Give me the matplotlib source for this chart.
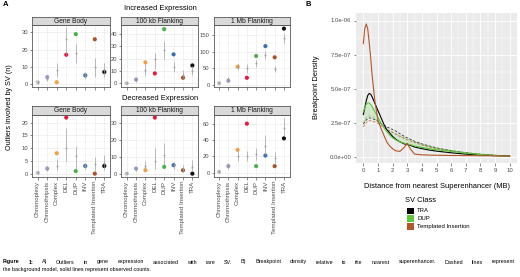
import matplotlib
matplotlib.use('Agg')
import matplotlib.pyplot as plt
import numpy as np

plt.rcParams['font.family'] = ['Liberation Sans', 'DejaVu Sans']

W, H = 520, 277
fig = plt.figure(figsize=(5.2, 2.77), dpi=100)

def ax_px(x0, y0, x1, y1):
    return fig.add_axes([x0 / W, 1 - y1 / H, (x1 - x0) / W, (y1 - y0) / H])

# ---------------- data: panel A ----------------
categories = ['Chromoplexy', 'Chromothripsis', 'Complex', 'DEL', 'DUP', 'INV',
              'Templated Insertion', 'TRA']
cat_colors = ['#C4C4CC', '#9C9CCC', '#F0A04A', '#E3193F', '#4DAF4A', '#3D6DB5',
              '#A9532C', '#111111']
facets = ['Gene Body', '100 kb Flanking', '1 Mb Flanking']

# Increased expression
inc_gb_obs = [1, 4, 1, 17, 29, 5, 26, 7]
inc_gb_exp = [1, 3, 8, 26, 18, 5, 10, 8]
inc_gb_lo = [0, 1.5, 4, 17, 12, 3, 4, 4]
inc_gb_hi = [2, 5, 12, 33, 23, 7, 15, 12]

inc_100_obs = [0, 3, 17, 8, 44, 23.5, 4.5, 14.5]
inc_100_exp = [0.5, 3, 11, 19.5, 27, 13, 7, 10]
inc_100_lo = [0, 1, 6, 12, 20, 9, 4, 7]
inc_100_hi = [1, 5, 16, 25, 34, 17.5, 11, 14]

inc_1mb_obs = [5, 12, 55, 21, 87, 117, 83, 170]
inc_1mb_exp = [5, 16, 55, 50, 65, 90, 48, 141]
inc_1mb_lo = [2, 8, 45, 37, 55, 78, 38, 125]
inc_1mb_hi = [8, 24, 62, 63, 75, 103, 58, 158]

# Decreased expression
dec_gb_obs = [0.3, 2, 8, 22, 1, 3, 0, 3]
dec_gb_exp = [0.5, 2, 3, 10, 7, 3, 3.7, 4]
dec_gb_lo = [0, 1, 1.5, 5, 2, 2, 1, 1.5]
dec_gb_hi = [1, 3, 5.6, 18, 11, 4, 6.7, 7.3]

dec_100_obs = [0, 3, 2, 33, 4, 5, 2, 0]
dec_100_exp = [0.3, 3, 4.7, 7.5, 11, 5, 3, 4]
dec_100_lo = [0, 1.5, 3, 3, 5, 3, 1, 2]
dec_100_hi = [1, 4, 7.6, 15, 18, 7, 5, 8]

dec_1mb_obs = [1, 8, 28, 60, 8, 21, 8, 42]
dec_1mb_exp = [1.5, 9, 20, 20, 23, 33, 18, 55]
dec_1mb_lo = [0, 5, 14, 14, 16, 22, 12, 45]
dec_1mb_hi = [3, 12, 26, 27, 30, 46, 25, 67]

panels = [
    # (row, col, obs, exp, lo, hi, ylim, major, minor)
    (0, 0, inc_gb_obs, inc_gb_exp, inc_gb_lo, inc_gb_hi, (-1.6, 34.3), [0, 10, 20, 30], [5, 15, 25]),
    (0, 1, inc_100_obs, inc_100_exp, inc_100_lo, inc_100_hi, (-2.8, 47.4), [0, 10, 20, 30, 40], [5, 15, 25, 35, 45]),
    (0, 2, inc_1mb_obs, inc_1mb_exp, inc_1mb_lo, inc_1mb_hi, (-6, 181), [0, 50, 100, 150], [25, 75, 125, 175]),
    (1, 0, dec_gb_obs, dec_gb_exp, dec_gb_lo, dec_gb_hi, (-1.2, 23), [0, 5, 10, 15, 20], [2.5, 7.5, 12.5, 17.5, 22.5]),
    (1, 1, dec_100_obs, dec_100_exp, dec_100_lo, dec_100_hi, (-1.8, 34.5), [0, 10, 20, 30], [5, 15, 25]),
    (1, 2, dec_1mb_obs, dec_1mb_exp, dec_1mb_lo, dec_1mb_hi, (-4.9, 70.6), [0, 20, 40, 60], [10, 30, 50, 70]),
]

col_x = [(32, 110), (121, 198), (213.5, 289.5)]
row_y = [(16.7, 25, 86.7), (106, 115, 176.7)]

tick_fs = 4.2
gray30 = '#4D4D4D'
border = '#5A5A5A'

for (r, c, obs, exp, lo, hi, ylim, major, minor) in panels:
    x0, x1 = col_x[c]
    ys, yp, yb = row_y[r]
    ax = ax_px(x0, yp, x1, yb)
    xs = np.arange(len(categories))
    ax.set_xlim(-0.6, len(categories) - 0.4)
    ax.set_ylim(*ylim)
    ax.set_yticks(major)
    ax.set_yticks(minor, minor=True)
    ax.set_xticks(xs)
    ax.grid(True, which='major', color='#EBEBEB', lw=0.5)
    ax.grid(True, which='minor', axis='y', color='#F4F4F4', lw=0.35)
    ax.set_axisbelow(True)
    for s in ax.spines.values():
        s.set_color(border)
        s.set_linewidth(0.6)
    ax.tick_params(axis='both', which='major', length=1.8, width=0.4, color='#333333',
                   labelsize=tick_fs, labelcolor=gray30, pad=1)
    ax.tick_params(axis='y', which='minor', length=0)
    if r == 1:
        ax.set_xticklabels(categories, rotation=90, fontsize=4.4)
    else:
        ax.set_xticklabels([])
    ax.scatter(xs, obs, s=9, c=cat_colors, zorder=3, linewidths=0)
    ax.vlines(xs, lo, hi, color='#9A9A9A', lw=0.7, alpha=0.65, zorder=4)
    ax.scatter(xs, exp, s=2.2, c='#9A9A9A', alpha=0.8, zorder=5, linewidths=0)
    # strip
    sax = ax_px(x0, ys, x1, yp)
    sax.set_facecolor('#D9D9D9')
    sax.set_xticks([])
    sax.set_yticks([])
    for s in sax.spines.values():
        s.set_color(border)
        s.set_linewidth(0.6)
    sax.text(0.5, 0.45, facets[c], ha='center', va='center', fontsize=4.8,
             color='#1A1A1A', transform=sax.transAxes)

fig.text(3 / W, 1 - 5 / H, 'A', fontsize=5.5, fontweight='bold', va='center', ha='left')
fig.text(160 / W, 1 - 8.3 / H, 'Increased Expression', fontsize=5.4, ha='center', va='center')
fig.text(160 / W, 1 - 98.5 / H, 'Decreased Expression', fontsize=5.4, ha='center', va='center')
fig.text(10 / W, 1 - 107.5 / H, 'Outliers involved by SV (n)', fontsize=5.2, rotation=90,
         ha='center', va='center')

# ---------------- data: panel B ----------------
dist_mb = [0, 0.1, 0.2, 0.3, 0.4, 0.5, 0.6, 0.8, 1.0, 1.2, 1.4, 1.6, 1.8, 2.0, 2.2, 2.5,
           2.8, 3.0, 3.2, 3.5, 4, 4.5, 5, 5.5, 6, 6.5, 7, 7.5, 8, 8.5, 9, 9.5, 10]
# densities in units of 1e-7
tra_obs = [3.1, 3.6, 4.1, 4.5, 4.65, 4.6, 4.4, 3.9, 3.4, 2.9, 2.4, 2.0, 1.75, 1.5, 1.3, 1.1,
           0.95, 0.9, 0.85, 0.72, 0.6, 0.5, 0.42, 0.36, 0.3, 0.25, 0.2, 0.17, 0.14, 0.11, 0.09, 0.07, 0.05]
dup_obs = [3.3, 3.6, 3.85, 3.95, 3.95, 3.85, 3.7, 3.3, 2.9, 2.5, 2.15, 1.85, 1.6, 1.4, 1.25, 1.1,
           1.0, 0.95, 0.9, 0.8, 0.7, 0.6, 0.52, 0.46, 0.4, 0.34, 0.28, 0.22, 0.17, 0.13, 0.1, 0.07, 0.05]
ti_obs = [8.3, 9.4, 9.75, 9.4, 8.4, 7.3, 6.0, 4.0, 2.7, 2.1, 1.6, 1.1, 0.8, 0.6, 0.45, 0.4,
          0.7, 1.0, 0.6, 0.2, 0.15, 0.13, 0.12, 0.11, 0.1, 0.1, 0.09, 0.09, 0.08, 0.08, 0.07, 0.07, 0.06]
tra_bg = [2.4, 2.55, 2.7, 2.8, 2.85, 2.85, 2.82, 2.72, 2.6, 2.45, 2.3, 2.2, 2.1, 2.0, 1.9, 1.7,
          1.5, 1.4, 1.3, 1.15, 0.95, 0.8, 0.66, 0.55, 0.46, 0.38, 0.31, 0.25, 0.2, 0.16, 0.12, 0.09, 0.07]
dup_bg = [2.5, 2.7, 2.85, 2.95, 3.0, 3.0, 2.95, 2.8, 2.6, 2.4, 2.2, 2.05, 1.9, 1.8, 1.7, 1.55,
          1.4, 1.3, 1.22, 1.1, 0.92, 0.78, 0.65, 0.55, 0.47, 0.39, 0.32, 0.26, 0.21, 0.16, 0.12, 0.09, 0.07]
ti_bg = [2.2, 2.35, 2.5, 2.6, 2.65, 2.65, 2.62, 2.55, 2.45, 2.3, 2.15, 2.0, 1.9, 1.8, 1.68, 1.5,
         1.35, 1.25, 1.17, 1.05, 0.88, 0.73, 0.6, 0.5, 0.42, 0.35, 0.29, 0.23, 0.18, 0.14, 0.11, 0.08, 0.06]
sv_classes = ['TRA', 'DUP', 'Templated Insertion']
sv_colors = ['#000000', '#5CC83E', '#B5562A']
y_ticks_b = [0, 2.5e-7, 5.0e-7, 7.5e-7, 1.0e-6]
y_tick_labels_b = ['0.0e+00', '2.5e-07', '5.0e-07', '7.5e-07', '1.0e-06']
x_ticks_b = list(range(0, 11))

scale = 1e-7
bx = ax_px(356, 13, 517, 163)
bx.set_facecolor('#EBEBEB')
for s in bx.spines.values():
    s.set_visible(False)
bx.set_xlim(-0.5, 10.5)
bx.set_ylim(-0.045e-6, 1.055e-6)
bx.set_xticks(x_ticks_b)
bx.set_xticks(np.arange(0.5, 10.5, 1), minor=True)
bx.set_yticks(y_ticks_b)
bx.set_yticklabels(y_tick_labels_b)
bx.set_yticks([1.25e-7, 3.75e-7, 6.25e-7, 8.75e-7], minor=True)
bx.grid(True, which='major', color='white', lw=0.6)
bx.grid(True, which='minor', color='white', lw=0.3)
bx.set_axisbelow(True)
bx.tick_params(axis='both', which='major', length=1.8, width=0.4, color='#333333',
               labelsize=4.3, labelcolor=gray30, pad=1.5)
bx.tick_params(axis='both', which='minor', length=0)

d = np.array(dist_mb)
bx.fill_between(d, np.array(dup_obs) * scale, np.array(dup_bg) * scale,
                color=sv_colors[1], alpha=0.18, lw=0)
obs_series = [tra_obs, dup_obs, ti_obs]
bg_series = [tra_bg, dup_bg, ti_bg]
for obs, bg, col in zip(obs_series, bg_series, sv_colors):
    bx.plot(d, np.array(bg) * scale, color=col, lw=0.6, ls=(0, (3, 2)), alpha=0.8)
for obs, bg, col in zip(obs_series, bg_series, sv_colors):
    bx.plot(d, np.array(obs) * scale, color=col, lw=0.8)

fig.text(317 / W, 1 - 87 / H, 'Breakpoint Density', fontsize=5.4, rotation=90,
         ha='center', va='center')
fig.text(437 / W, 1 - 187 / H, 'Distance from nearest Superenhancer (MB)', fontsize=5.4,
         ha='center', va='center')
fig.text(306 / W, 1 - 5 / H, 'B', fontsize=5.5, fontweight='bold', va='center', ha='left')

# legend (manual, ggplot style)
fig.text(405 / W, 1 - 200.7 / H, 'SV Class', fontsize=5.4, ha='left', va='center')
leg_y = [211, 218.7, 226.5]
for name, col, yy in zip(sv_classes, sv_colors, leg_y):
    kax = ax_px(406.5, yy - 3.4, 413.5, yy + 3.4)
    kax.set_facecolor(col)
    kax.set_xticks([])
    kax.set_yticks([])
    for s in kax.spines.values():
        s.set_visible(False)
    fig.text(417 / W, 1 - yy / H, name, fontsize=4.3, ha='left', va='center')

# caption (first line fully justified, like the reference)
cap_fs = 3.9
line1 = [('Figure', 'bold'), ('1:', 'bold')] + [
    (w, 'normal') for w in ('A) Outliers in gene expression associated with rare SV. B) Breakpoint '
                            'density relative to the nearest superenhancer. Dashed lines represent').split()]
line1_texts = [fig.text(0, 1 - 262 / H, w, fontsize=cap_fs, fontweight=fw, ha='left', va='center')
               for w, fw in line1]
fig.canvas.draw()
renderer = fig.canvas.get_renderer()
widths = [t.get_window_extent(renderer).width for t in line1_texts]
x_left, x_right = 3.0, 515.0
gap = (x_right - x_left - sum(widths)) / (len(widths) - 1)
xpos = x_left
for t, wd in zip(line1_texts, widths):
    t.set_x(xpos / W)
    xpos += wd + gap
fig.text(3 / W, 1 - 269.5 / H, 'the background model, solid lines represent observed counts.',
         fontsize=cap_fs, ha='left', va='center')

fig.savefig('out.png', dpi=100)
